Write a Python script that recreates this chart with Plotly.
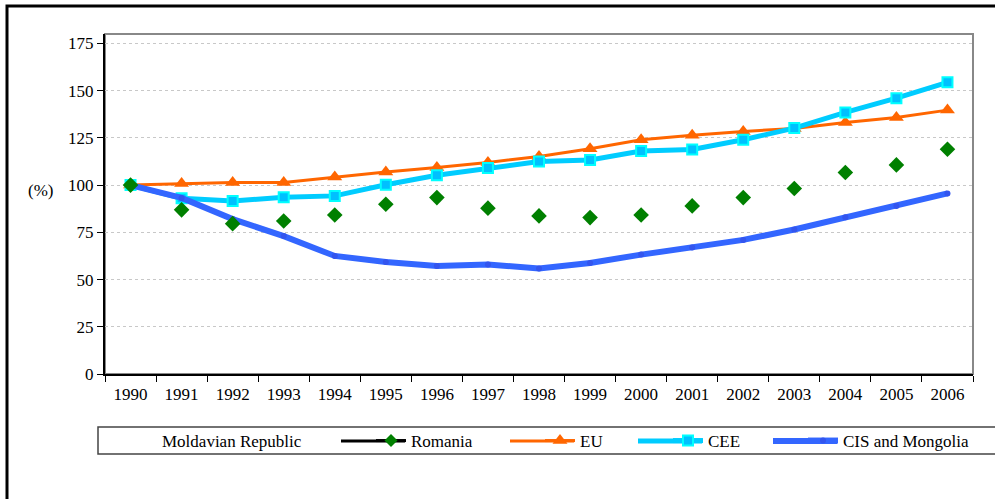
import plotly.graph_objects as go

years = [str(y) for y in range(1990, 2007)]

romania = [100, 86.9, 79.6, 81.0, 84.2, 89.9, 93.4, 87.8, 83.7, 82.8, 84.2, 89.0, 93.4, 98.2, 106.7, 110.7, 119.0]
eu = [100, 100.8, 101.4, 101.4, 104.3, 107.0, 109.3, 112.0, 115.2, 119.3, 124.0, 126.4, 128.4, 130.0, 133.2, 135.8, 139.7]
cee = [100, 93.0, 91.6, 93.6, 94.3, 100.2, 105.2, 109.0, 112.5, 113.3, 118.1, 118.9, 124.0, 130.2, 138.5, 146.0, 154.4]
cis = [100, 93.2, 82.0, 73.0, 62.5, 59.3, 57.2, 58.0, 55.9, 58.8, 63.2, 67.0, 71.0, 76.5, 83.0, 89.0, 95.6]

y_ticks = [0, 25, 50, 75, 100, 125, 150, 175]

FONT = "'Liberation Serif', 'Times New Roman', Times, serif"

W, H = 995, 499
PL, PR, PT, PB = 105, 973, 34, 374  # target plot-area edges in pixels
pw, ph = PR - PL, PB - PT


def px_x(x):
    return (x - PL) / pw


def px_y(y):
    return (PB - y) / ph


fig = go.Figure()

# Moldavian Republic: legend entry only (no visible series)
fig.add_trace(go.Scatter(x=[years[0]], y=[None], mode="lines", name="Moldavian Republic",
                         line=dict(color="rgba(0,0,0,0)", width=3), legend="legend"))
# Romania legend entry (black line + green diamond)
fig.add_trace(go.Scatter(x=[years[0]], y=[None], mode="lines+markers", name="Romania",
                         line=dict(color="black", width=3),
                         marker=dict(symbol="diamond", size=10, color="#008000"), legend="legend2"))
fig.add_trace(go.Scatter(x=years, y=eu, mode="lines+markers", name="EU",
                         line=dict(color="#FF6600", width=3),
                         marker=dict(symbol="triangle-up", size=13, color="#FF6600"), legend="legend3"))
fig.add_trace(go.Scatter(x=years, y=cee, mode="lines+markers", name="CEE",
                         line=dict(color="#00CCFF", width=5),
                         marker=dict(symbol="square", size=10, color="#00C0FF",
                                     line=dict(color="#00FFFF", width=2)), legend="legend4"))
fig.add_trace(go.Scatter(x=years, y=cis, mode="lines+markers", name="CIS and Mongolia",
                         line=dict(color="#3366FF", width=6),
                         marker=dict(symbol="circle", size=6, color="#3355EE"), legend="legend5"))
# Romania data (markers only)
fig.add_trace(go.Scatter(x=years, y=romania, mode="markers", name="Romania", showlegend=False,
                         marker=dict(symbol="diamond", size=12, color="#008000")))

text_starts = [162, 411, 580, 708, 843]
legend_line_styles = [None, ("black", 3), ("#FF6600", 3), ("#00CCFF", 5), ("#3366FF", 6)]
LEG_Y = 441
legends = {}
legend_shapes = []
for i, ts in enumerate(text_starts):
    key = "legend" if i == 0 else f"legend{i + 1}"
    legends[key] = dict(orientation="h", x=px_x(ts - 40), xanchor="left", y=px_y(LEG_Y), yanchor="middle",
                        borderwidth=0, bgcolor="rgba(0,0,0,0)", font=dict(family=FONT, size=17))
    st = legend_line_styles[i]
    if st:
        legend_shapes.append(dict(type="line", xref="paper", yref="paper",
                                  x0=px_x(ts - 70), x1=px_x(ts - 6), y0=px_y(LEG_Y), y1=px_y(LEG_Y),
                                  line=dict(color=st[0], width=st[1]), layer="below"))

fig.update_layout(
    width=W, height=H,
    margin=dict(l=PL, r=W - PR, t=PT, b=H - PB),
    paper_bgcolor="white", plot_bgcolor="white",
    font=dict(family=FONT, size=17, color="black"),
    showlegend=True,
    **legends,
    xaxis=dict(type="category", categoryorder="array", categoryarray=years, range=[-0.5, 16.5],
               showline=True, linecolor="black", linewidth=2,
               ticks="outside", ticklen=6, tickcolor="black", tickwidth=1,
               tickson="boundaries", showgrid=False, zeroline=False, ticklabelstandoff=4,
               tickfont=dict(family=FONT, size=17)),
    yaxis=dict(range=[0, 180], tickvals=y_ticks, showline=True, linecolor="black", linewidth=2,
               ticks="outside", ticklen=6, tickcolor="black", tickwidth=1,
               showgrid=True, gridcolor="#C8C8C8", griddash="3px,3px", gridwidth=1,
               zeroline=False, tickfont=dict(family=FONT, size=17)),
    shapes=[
        dict(type="rect", xref="paper", yref="paper", x0=0, x1=1, y0=0, y1=1,
             line=dict(color="#888888", width=2), layer="below"),
        dict(type="rect", xref="paper", yref="paper", x0=px_x(7), x1=px_x(1010), y0=px_y(520), y1=px_y(6),
             line=dict(color="black", width=3), layer="below"),
        dict(type="rect", xref="paper", yref="paper", x0=px_x(98), x1=px_x(1010), y0=px_y(454), y1=px_y(427),
             line=dict(color="#444444", width=1.5), layer="below"),
    ] + legend_shapes,
    annotations=[
        dict(text="(%)", xref="paper", yref="paper", x=px_x(40), y=px_y(190), showarrow=False,
             font=dict(family=FONT, size=17), xanchor="center", yanchor="middle"),
    ],
)

fig.write_html("out.html", config={"displayModeBar": False},
               post_script="document.body.style.margin='0';")
